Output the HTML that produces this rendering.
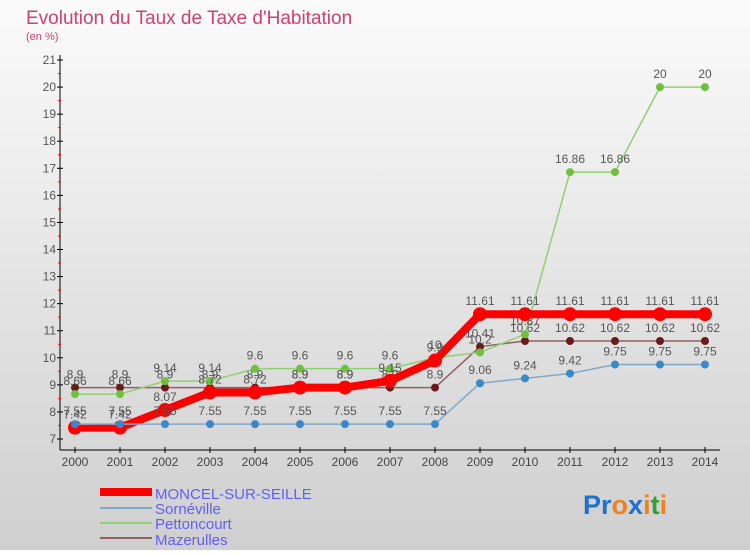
<!DOCTYPE html>
<html><head><meta charset="utf-8"><style>
body{margin:0;width:750px;height:550px;overflow:hidden;font-family:"Liberation Sans",sans-serif;}
svg text{font-family:"Liberation Sans",sans-serif;}
</style></head><body>
<svg id="c" width="750" height="550" xmlns="http://www.w3.org/2000/svg">
<defs><linearGradient id="bg" x1="0" y1="0" x2="0" y2="1"><stop offset="0" stop-color="#fbfbfb"/><stop offset="1" stop-color="#cfcfcf"/></linearGradient></defs>
<rect width="750" height="550" fill="url(#bg)"/>
<text x="26" y="24" font-size="19" fill="#d04070">Evolution du Taux de Taxe d'Habitation</text>
<text x="26" y="40" font-size="11" fill="#d04070">(en %)</text>
<g id="axes"></g><g id="series"></g>
<g>
<rect x="100" y="488" width="52" height="8" fill="#f00"/>
<text x="155" y="499" font-size="15" fill="#6060f0">MONCEL-SUR-SEILLE</text>
<rect x="100" y="507" width="52" height="2" fill="#80a8c8"/>
<text x="155" y="514" font-size="15" fill="#6060f0">Sornéville</text>
<rect x="100" y="522" width="52" height="2" fill="#90d070"/>
<text x="155" y="529" font-size="15" fill="#6060f0">Pettoncourt</text>
<rect x="100" y="537" width="52" height="2" fill="#906060"/>
<text x="155" y="545" font-size="15" fill="#6060f0">Mazerulles</text>
</g>
<text x="583" y="514" font-size="27" font-weight="bold"><tspan fill="#2070d0">Pr</tspan><tspan fill="#f08020">o</tspan><tspan fill="#2070d0">x</tspan><tspan fill="#f08020">i</tspan><tspan fill="#30a030">t</tspan><tspan fill="#f08020">i</tspan></text>
</svg>
<script>
const years=[2000,2001,2002,2003,2004,2005,2006,2007,2008,2009,2010,2011,2012,2013,2014];
const moncel=[7.42,7.42,8.07,8.72,8.72,8.9,8.9,9.15,9.9,11.61,11.61,11.61,11.61,11.61,11.61];
const sorneville=[7.55,7.55,7.55,7.55,7.55,7.55,7.55,7.55,7.55,9.06,9.24,9.42,9.75,9.75,9.75];
const pettoncourt=[8.66,8.66,9.14,9.14,9.6,9.6,9.6,9.6,10,10.2,10.87,16.86,16.86,20,20];
const mazerulles=[8.9,8.9,8.9,8.9,8.9,8.9,8.9,8.9,8.9,10.41,10.62,10.62,10.62,10.62,10.62];
const yTicks=[7,8,9,10,11,12,13,14,15,16,17,18,19,20,21];
const NS="http://www.w3.org/2000/svg";
const X=i=>75+i*45, Y=v=>439-(v-7)*27.07;
function mk(t,a,p){const e=document.createElementNS(NS,t);for(const k in a)e.setAttribute(k,a[k]);p.appendChild(e);return e;}
const ax=document.getElementById('axes'), se=document.getElementById('series');
let l=mk('line',{x1:60,y1:55,x2:60,y2:450,stroke:'#000'},ax);


l=mk('line',{x1:60,y1:450,x2:720,y2:450,stroke:'#000'},ax);


yTicks.forEach(v=>{
 mk('line',{x1:57,y1:Y(v),x2:63,y2:Y(v),stroke:'#000'},ax);
 if(v<21) mk('line',{x1:58,y1:Y(v+0.5),x2:61,y2:Y(v+0.5),stroke:'#f00'},ax);
 const t=mk('text',{x:56,y:Y(v)+4,'font-size':12,fill:'#555','text-anchor':'end'},ax);t.textContent=v;
 
 
});
years.forEach((y,i)=>{
 mk('line',{x1:X(i),y1:447,x2:X(i),y2:453,stroke:'#000'},ax);
 const t=mk('text',{x:X(i),y:466,'font-size':12,fill:'#444','text-anchor':'middle'},ax);t.textContent=y;
 
 
});
function draw(name,d,col,w,r,dot){
 const g=mk('g',{},se);
 
 
 mk('polyline',{points:d.map((v,i)=>X(i)+','+Y(v)).join(' '),fill:'none',stroke:col,'stroke-width':w,'stroke-linejoin':'round'},g);
 d.forEach((v,i)=>{
  const c=mk('circle',{cx:X(i),cy:Y(v),r:r,fill:dot},g);
  
  
  const t=mk('text',{x:X(i),y:Y(v)-9,'font-size':12,fill:'#555','text-anchor':'middle'},g);t.textContent=v;
  
  
 });
}
draw('mazerulles',mazerulles,'#906060',1.5,4,'#6a1a1a');
draw('pettoncourt',pettoncourt,'#90d070',1.5,4,'#70c040');
draw('moncel',moncel,'#f00',8,7,'#f00');
draw('sorneville',sorneville,'#80a8c8',1.5,4,'#3a88c8');
</script>
</body></html>
